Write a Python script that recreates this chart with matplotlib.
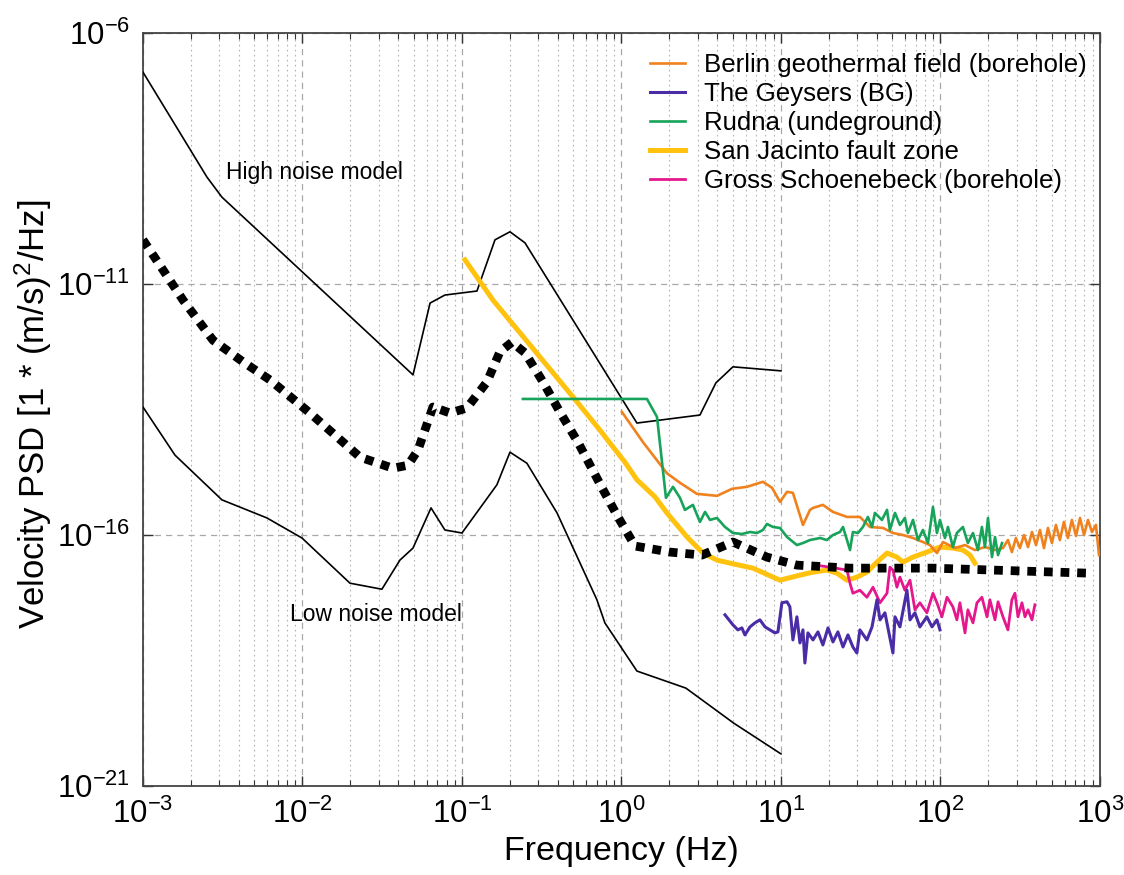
import matplotlib
matplotlib.use('Agg')
import matplotlib.pyplot as plt
import numpy as np
from matplotlib.ticker import FixedLocator, NullLocator, FuncFormatter

plt.rcParams['font.family'] = ['Liberation Sans', 'DejaVu Sans']
plt.rcParams['mathtext.fontset'] = 'custom'
plt.rcParams['mathtext.rm'] = 'Liberation Sans'
plt.rcParams['mathtext.it'] = 'Liberation Sans:italic'
plt.rcParams['mathtext.bf'] = 'Liberation Sans:bold'
plt.rcParams['axes.unicode_minus'] = False

# values: log10(frequency in Hz), log10(PSD)
hnm_logf = [-3.0, -2.599, -2.505, -1.307, -1.2, -1.107, -0.906, -0.793, -0.699, -0.605, 0.097, 0.492, 0.592, 0.699, 1.0]
hnm_logp = [-6.78, -8.87, -9.27, -12.81, -11.38, -11.22, -11.14, -10.12, -9.96, -10.18, -13.77, -13.61, -12.97, -12.65, -12.73]

lnm_logf = [-3.0, -2.799, -2.505, -2.223, -2.003, -1.702, -1.502, -1.389, -1.307, -1.194, -1.107, -1.0,
            -0.781, -0.699, -0.593, -0.404, -0.154, -0.104, 0.097, 0.404, 0.705, 1.0]
lnm_logp = [-13.45, -14.41, -15.30, -15.66, -16.06, -16.96, -17.08, -16.50, -16.26, -15.46, -15.90, -15.96,
            -15.00, -14.35, -14.57, -15.56, -17.29, -17.75, -18.71, -19.05, -19.75, -20.36]

mean_logf = [-3.0, -2.749, -2.561, -2.373, -2.204, -1.953, -1.639, -1.433, -1.339, -1.276,
             -1.182, -1.075, -0.969, -0.843, -0.762, -0.687, -0.605, -0.492, -0.386, -0.273,
             -0.122, -0.022, 0.085, 0.304, 0.505, 0.699, 0.912, 1.100, 1.433, 1.953, 2.925]
mean_logp = [-10.12, -11.32, -12.12, -12.55, -12.91, -13.57, -14.45, -14.67, -14.61, -14.31,
             -13.45, -13.57, -13.47, -12.95, -12.35, -12.16, -12.37, -12.95, -13.55, -14.15,
             -15.06, -15.64, -16.22, -16.34, -16.40, -16.14, -16.44, -16.60, -16.66, -16.66, -16.76]

berlin_logf = [0.003, 0.135, 0.285, 0.367, 0.473, 0.599, 0.693, 0.787, 0.887, 0.944, 0.994, 1.038, 1.075,
               1.138, 1.182, 1.201, 1.263, 1.326, 1.414, 1.495, 1.558, 1.640, 1.702, 1.765, 1.828, 1.890,
               1.934, 1.978, 2.016, 2.091, 2.154, 2.216, 2.279, 2.342, 2.392, 2.423, 2.448, 2.473, 2.498,
               2.524, 2.549, 2.574, 2.599, 2.624, 2.649, 2.674, 2.699, 2.724, 2.749, 2.774, 2.799, 2.824,
               2.850, 2.875, 2.900, 2.925, 2.950, 2.975, 2.994]
berlin_logp = [-13.55, -14.15, -14.77, -14.96, -15.18, -15.22, -15.08, -15.04, -14.94, -15.06, -15.34, -15.14, -15.16,
               -15.80, -15.50, -15.46, -15.40, -15.54, -15.64, -15.64, -15.84, -15.86, -15.96, -16.00, -16.06, -16.14,
               -16.20, -16.36, -16.14, -16.26, -16.20, -16.30, -16.24, -16.30, -16.26, -16.10, -16.34, -16.06, -16.26,
               -16.00, -16.24, -15.94, -16.20, -15.90, -16.26, -15.86, -16.16, -15.80, -16.10, -15.74, -16.06, -15.70,
               -16.02, -15.66, -16.00, -15.70, -15.94, -15.80, -16.40]

geysers_logf = [0.649, 0.699, 0.730, 0.755, 0.774, 0.806, 0.837, 0.868, 0.900, 0.931, 0.962, 0.981, 1.006,
                1.038, 1.056, 1.075, 1.100, 1.119, 1.138, 1.150, 1.169, 1.201, 1.232, 1.263, 1.295, 1.326,
                1.357, 1.389, 1.420, 1.451, 1.476, 1.495, 1.539, 1.571, 1.602, 1.621, 1.652, 1.702, 1.715,
                1.746, 1.790, 1.809, 1.840, 1.871, 1.915, 1.947, 1.978, 1.997]
geysers_logp = [-17.59, -17.79, -17.89, -17.85, -17.99, -17.83, -17.75, -17.69, -17.83, -17.89, -17.95, -17.93, -17.35,
                -17.33, -17.43, -18.09, -17.63, -18.15, -17.89, -18.55, -17.95, -18.09, -17.93, -18.19, -17.85, -18.13,
                -17.93, -18.23, -17.99, -18.23, -18.35, -17.89, -18.09, -17.83, -17.29, -17.69, -17.55, -18.35, -17.63,
                -17.83, -17.10, -17.69, -17.55, -17.83, -17.63, -17.83, -17.69, -17.89]

rudna_logf = [-0.618, 0.160, 0.223, 0.279, 0.323, 0.367, 0.398, 0.448, 0.492, 0.524, 0.555, 0.599, 0.649,
              0.699, 0.755, 0.806, 0.850, 0.887, 0.912, 0.950, 0.994, 1.038, 1.100, 1.138, 1.182, 1.245,
              1.288, 1.326, 1.370, 1.389, 1.414, 1.433, 1.451, 1.483, 1.514, 1.545, 1.571, 1.589, 1.633,
              1.665, 1.683, 1.715, 1.746, 1.777, 1.796, 1.828, 1.859, 1.890, 1.922, 1.953, 1.978, 1.997,
              2.028, 2.047, 2.078, 2.103, 2.141, 2.172, 2.204, 2.235, 2.260, 2.279, 2.298, 2.323, 2.342,
              2.361, 2.386]
rudna_logp = [-13.29, -13.29, -13.65, -15.26, -15.04, -15.26, -15.50, -15.40, -15.74, -15.54, -15.70, -15.66, -15.84,
              -15.96, -15.98, -15.94, -15.96, -15.90, -15.78, -15.84, -15.86, -16.04, -16.20, -16.16, -16.10, -16.06,
              -16.10, -16.00, -15.94, -15.84, -16.10, -16.30, -15.94, -15.96, -15.84, -15.64, -15.84, -15.56, -15.70,
              -15.50, -15.90, -15.56, -15.80, -15.66, -15.96, -15.70, -16.10, -15.90, -16.16, -15.44, -15.96, -15.70,
              -16.06, -15.84, -16.24, -15.96, -15.84, -16.16, -15.96, -16.30, -15.84, -16.24, -15.66, -16.44, -16.04,
              -16.40, -16.16]

sanjac_logf = [-0.981, -0.806, -0.304, -0.135, -0.072, 0.022, 0.097, 0.210, 0.285, 0.411, 0.511, 0.599,
               0.680, 0.824, 0.994, 1.119, 1.201, 1.288, 1.351, 1.414, 1.476, 1.539, 1.602, 1.665, 1.727,
               1.765, 1.828, 1.915, 1.997, 2.078, 2.141, 2.185, 2.216]
sanjac_logp = [-10.52, -11.32, -13.25, -13.91, -14.17, -14.55, -14.90, -15.24, -15.56, -16.04, -16.36, -16.50,
               -16.56, -16.66, -16.90, -16.80, -16.74, -16.70, -16.76, -16.90, -16.84, -16.74, -16.54, -16.36, -16.44,
               -16.54, -16.44, -16.34, -16.24, -16.26, -16.30, -16.40, -16.56]

gross_logf = [1.213, 1.307, 1.414, 1.433, 1.451, 1.495, 1.539, 1.577, 1.621, 1.665, 1.683, 1.702, 1.727,
              1.746, 1.777, 1.809, 1.840, 1.871, 1.915, 1.953, 1.978, 2.009, 2.041, 2.078, 2.103, 2.122,
              2.154, 2.172, 2.204, 2.229, 2.260, 2.292, 2.310, 2.342, 2.361, 2.392, 2.423, 2.448, 2.467,
              2.486, 2.511, 2.530, 2.549, 2.574, 2.592]
gross_logp = [-16.60, -16.64, -16.70, -16.96, -17.16, -17.10, -17.24, -17.04, -17.35, -17.16, -16.64, -16.70, -17.04,
              -16.84, -17.10, -16.90, -17.49, -17.35, -17.55, -17.16, -17.35, -17.63, -17.24, -17.43, -17.69, -17.35,
              -17.95, -17.49, -17.75, -17.35, -17.24, -17.63, -17.29, -17.69, -17.33, -17.63, -17.89, -17.29, -17.16,
              -17.63, -17.35, -17.63, -17.49, -17.69, -17.39]

x_decades = [-3, -2, -1, 0, 1, 2, 3]
y_decades = [-21, -16, -11, -6]


def pw(a):
    return 10.0 ** np.asarray(a, dtype=float)


fig = plt.figure(figsize=(11.24, 8.75), dpi=100)
ax = fig.add_axes([0.1272, 0.1017, 0.8514, 0.8606])

ax.plot(pw(hnm_logf), pw(hnm_logp), color='black', lw=1.2, zorder=3)
ax.plot(pw(lnm_logf), pw(lnm_logp), color='black', lw=1.2, zorder=3)

l_sj, = ax.plot(pw(sanjac_logf), pw(sanjac_logp), color='#ffc20e', lw=3.6, zorder=4, label='San Jacinto fault zone')
l_be, = ax.plot(pw(berlin_logf), pw(berlin_logp), color='#f0821e', lw=1.9, zorder=5, label='Berlin geothermal field (borehole)')
l_ru, = ax.plot(pw(rudna_logf), pw(rudna_logp), color='#17a35a', lw=1.9, zorder=6, label='Rudna (undeground)')
l_gs, = ax.plot(pw(gross_logf), pw(gross_logp), color='#e5178c', lw=2.0, zorder=6, label='Gross Schoenebeck (borehole)')
l_ge, = ax.plot(pw(geysers_logf), pw(geysers_logp), color='#4a2ca6', lw=2.2, zorder=7, label='The Geysers (BG)')

ax.plot(pw(mean_logf), pw(mean_logp), color='black', lw=6.3, ls=(0, (1, 0.9)),
        dash_capstyle='butt', zorder=8)

ax.set_xscale('log')
ax.set_yscale('log')
ax.set_xlim(1e-3, 1e3)
ax.set_ylim(1e-21, 1e-6)

xmaj = pw(x_decades)
xmin = [k * v for v in xmaj[:-1] for k in range(2, 10)]
ax.xaxis.set_major_locator(FixedLocator(xmaj))
ax.xaxis.set_minor_locator(FixedLocator(xmin))
ax.yaxis.set_major_locator(FixedLocator(pw(y_decades)))
ax.yaxis.set_minor_locator(NullLocator())
fmt = FuncFormatter(lambda v, p: r'$\mathdefault{10^{%d}}$' % int(round(np.log10(v))))
ax.xaxis.set_major_formatter(fmt)
ax.yaxis.set_major_formatter(fmt)

ax.grid(which='major', ls=(0, (5, 4)), color='#a8a8a8', lw=0.9)
ax.grid(which='minor', axis='x', ls=(0, (1.5, 3)), color='#b4b4b4', lw=0.8)
ax.set_axisbelow(True)

ax.tick_params(which='both', direction='in', top=True, right=True, color='#333333')
ax.tick_params(which='major', length=7, width=1, labelsize=22.5, pad=9)
ax.tick_params(which='minor', length=4, width=0.8)
for s in ax.spines.values():
    s.set_color('#444444')
    s.set_linewidth(1.3)

ax.set_xlabel('Frequency (Hz)', fontsize=24.5)
ax.xaxis.set_label_coords(0.5, -0.066)
ax.set_ylabel(r'Velocity PSD [1 * (m/s)$^{2}$/Hz]', fontsize=25)
ax.yaxis.set_label_coords(-0.093, 0.494)

ax.text(0.0033, 10 ** -8.77, 'High noise model', fontsize=16.5, ha='left', va='center')
ax.text(0.00836, 10 ** -17.59, 'Low noise model', fontsize=16.5, ha='left', va='center')

ax.legend(handles=[l_be, l_ge, l_ru, l_sj, l_gs], loc='upper right', bbox_to_anchor=(1.0, 0.99),
          frameon=False, fontsize=18.6, handlelength=1.36, handletextpad=0.74, labelspacing=0.19,
          borderaxespad=0.1)

fig.savefig('out.png', dpi=100)
